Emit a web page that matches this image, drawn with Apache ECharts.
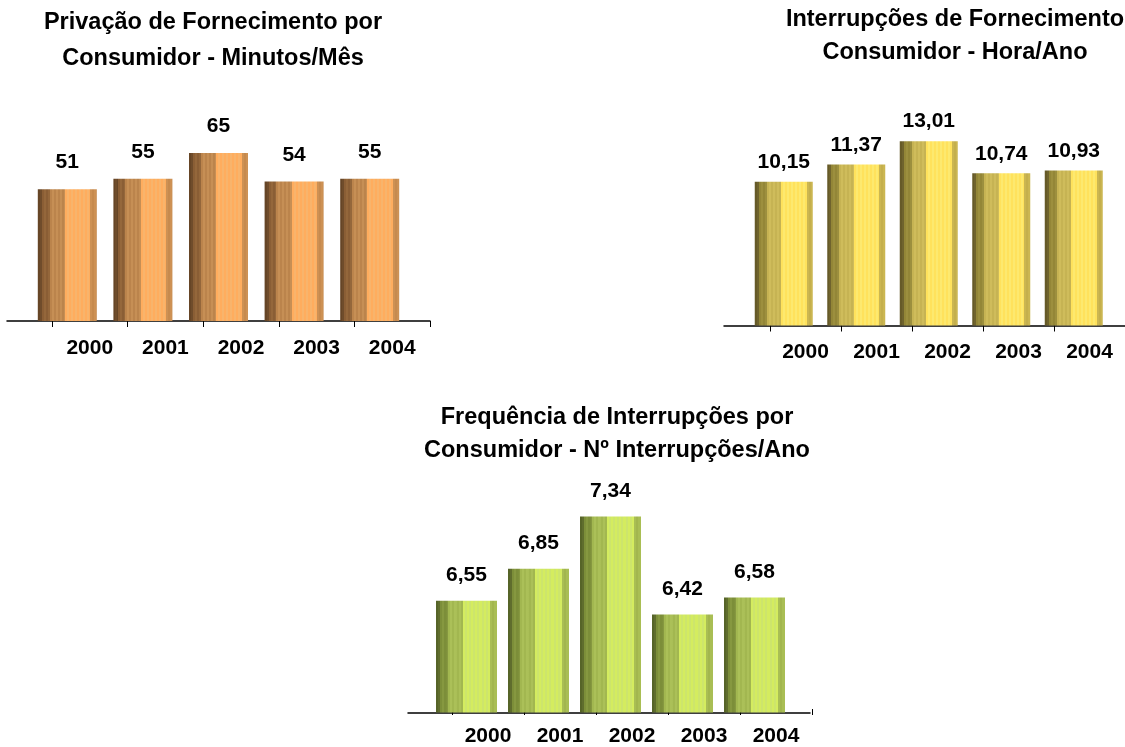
<!DOCTYPE html>
<html><head><meta charset="utf-8">
<script src="https://cdn.jsdelivr.net/npm/echarts@6/dist/echarts.min.js"></script>
<style>html,body{margin:0;padding:0;background:#fff}#c{width:1125px;height:747px}</style>
</head><body><div id="c"></div>
<script>
// ---- data ----
const years = ['2000', '2001', '2002', '2003', '2004'];
const privacaoMinutosMes = [51, 55, 65, 54, 55];
const interrupcoesHoraAno = [10.15, 11.37, 13.01, 10.74, 10.93];
const frequenciaInterrupcoesAno = [6.55, 6.85, 7.34, 6.42, 6.58];
const title1 = ['Privação de Fornecimento por', 'Consumidor - Minutos/Mês'];
const title2 = ['Interrupções de Fornecimento', 'Consumidor - Hora/Ano'];
const title3 = ['Frequência de Interrupções por', 'Consumidor - Nº Interrupções/Ano'];

const FONT = '"Liberation Sans", Arial, sans-serif';

// striped "pillar" fill: bands of [start, end, colorA, colorB]
function grad(bands) {
  const stops = [];
  const step = 0.034;
  bands.forEach(([s, e, a, b]) => {
    let x = s, k = 0;
    while (x < e - 1e-6) {
      const nx = Math.min(e, x + step);
      const col = k % 2 ? b : a;
      stops.push({ offset: x + 0.0005, color: col }, { offset: nx, color: col });
      x = nx; k++;
    }
  });
  stops[0].offset = 0;
  return new echarts.graphic.LinearGradient(0, 0, 1, 0, stops);
}

const charts = [
  { data: privacaoMinutosMes, title: title1, titleX: 213, titleY: [23, 59], dec: 0,
    barsLeft: 29.5, band: 75.6, tickLeft: 52, lineLeft: 7, lineRight: 430,
    axisY: 321, yMin: 0, yMax: 80, pxPerUnit: 2.585, barW: 59, labelDist: 16, tickMargin: 17,
    bands: [[0, 0.07, '#664526', '#6f4c2b'], [0.07, 0.20, '#8a5e35', '#94673b'],
            [0.20, 0.46, '#bb844c', '#c68f55'], [0.46, 0.89, '#ffad5e', '#f8b46c'],
            [0.89, 1, '#cd9154', '#c68a4e']] },
  { data: interrupcoesHoraAno, title: title2, titleX: 955, titleY: [20, 53], dec: 2,
    barsLeft: 747.5, band: 72.5, tickLeft: 770, lineLeft: 724, lineRight: 1125,
    axisY: 325.5, yMin: 0, yMax: 15, pxPerUnit: 14.17, barW: 58, labelDist: 9, tickMargin: 16,
    bands: [[0, 0.07, '#665a28', '#6f632d'], [0.07, 0.21, '#938637', '#9c8f3e'],
            [0.21, 0.46, '#c6b353', '#cfbc5b'], [0.46, 0.90, '#ffe25c', '#fde96f'],
            [0.90, 1, '#cbb651', '#c4af4c']] },
  { data: frequenciaInterrupcoesAno, title: title3, titleX: 617, titleY: [418, 451], dec: 2,
    barsLeft: 430.5, band: 72, tickLeft: 452, lineLeft: 408, lineRight: 810,
    axisY: 712.5, yMin: 5.5, yMax: 7.5, pxPerUnit: 106.5, barW: 61, labelDist: 15, tickMargin: 17,
    bands: [[0, 0.07, '#566428', '#5f6d2d'], [0.07, 0.20, '#7c8e39', '#869840'],
            [0.20, 0.44, '#a2b750', '#abc058'], [0.44, 0.89, '#d4ec5f', '#cde56c'],
            [0.89, 1, '#a9be54', '#a2b64e']] }
];

const grid = [], xAxis = [], yAxis = [], series = [], graphic = [];
charts.forEach((c) => {
  const h = (c.yMax - c.yMin) * c.pxPerUnit;
  const top = c.axisY - h;
  const w = c.band * years.length;
  const base = grid.length;
  grid.push({ left: c.barsLeft, top: top, width: w, height: h, containLabel: false });
  grid.push({ left: c.tickLeft, top: top, width: w, height: h, containLabel: false });
  grid.push({ left: c.lineLeft, top: top, width: c.lineRight - c.lineLeft, height: h, containLabel: false });

  xAxis.push({ gridIndex: base, type: 'category', data: years, axisLine: { show: false },
    axisTick: { show: false }, axisLabel: { show: false } });
  xAxis.push({ gridIndex: base + 1, type: 'category', data: years, axisLine: { show: false },
    axisTick: { show: true, length: 6, lineStyle: { color: '#000', width: 1 } },
    axisLabel: { show: true, fontSize: 21, fontWeight: 'bold', color: '#000', fontFamily: FONT, margin: c.tickMargin } });
  xAxis.push({ gridIndex: base + 2, type: 'value', min: 0, max: 1,
    axisLine: { show: true, onZero: false, lineStyle: { color: '#000', width: 1.5 } },
    axisTick: { show: false }, axisLabel: { show: false }, splitLine: { show: false } });

  yAxis.push({ gridIndex: base, type: 'value', min: c.yMin, max: c.yMax, show: false });
  yAxis.push({ gridIndex: base + 1, type: 'value', min: 0, max: 1, show: false });
  yAxis.push({ gridIndex: base + 2, type: 'value', min: 0, max: 1, show: false });

  series.push({
    type: 'bar', xAxisIndex: base, yAxisIndex: base, data: c.data, barWidth: c.barW,
    itemStyle: { color: grad(c.bands) },
    label: { show: true, position: 'top', distance: c.labelDist, fontSize: 21, fontWeight: 'bold',
      color: '#000', fontFamily: FONT,
      formatter: p => c.dec ? p.value.toFixed(c.dec).replace('.', ',') : String(p.value) },
    emphasis: { disabled: true }, animation: false
  });

  c.title.forEach((t, j) => {
    graphic.push({ type: 'text', x: c.titleX, y: c.titleY[j],
      style: { text: t, font: 'bold 23.5px ' + FONT, fill: '#000', textAlign: 'center', textVerticalAlign: 'middle' } });
  });
});

const chart = echarts.init(document.getElementById('c'), null, { renderer: 'canvas' });
chart.setOption({ backgroundColor: '#fff', animation: false, grid, xAxis, yAxis, series, graphic });
</script>
</body></html>
